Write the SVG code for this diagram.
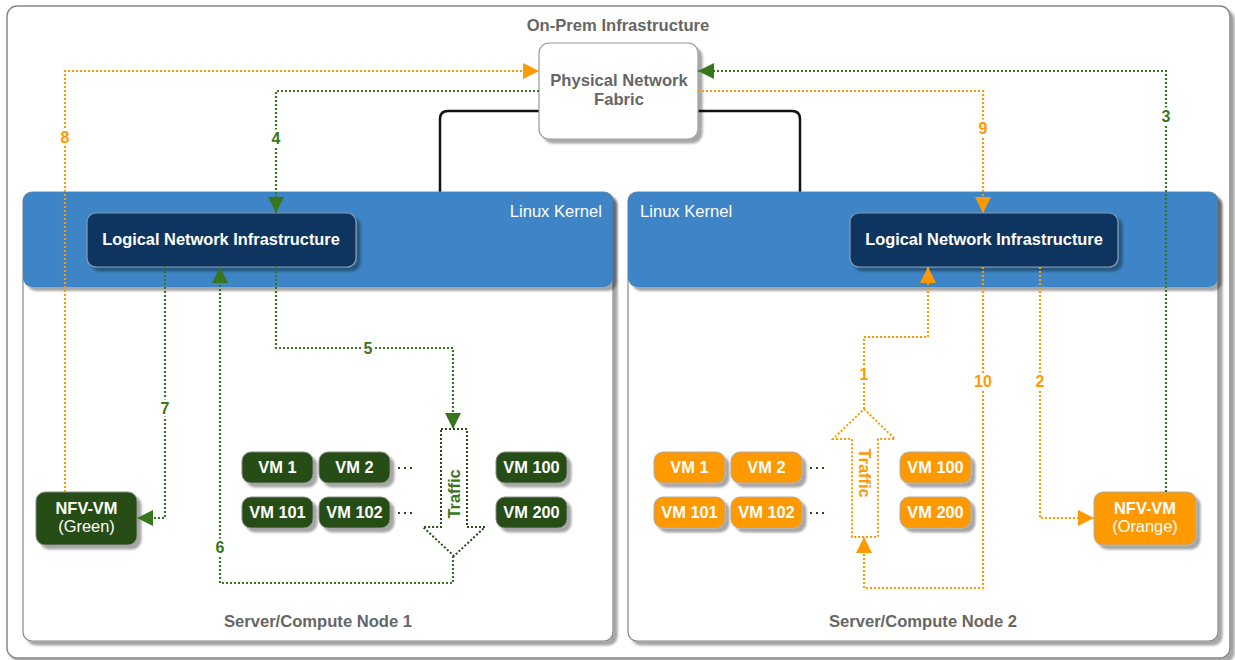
<svg xmlns="http://www.w3.org/2000/svg" width="1235" height="660" viewBox="0 0 1235 660">
  <defs>
    <filter id="shadow" x="-10%" y="-10%" width="130%" height="140%">
      <feDropShadow dx="4" dy="4" stdDeviation="1.2" flood-color="#000" flood-opacity="0.35"/>
    </filter>
    <marker id="arrowGreen" viewBox="0 0 16 16" markerWidth="16" markerHeight="16" refX="16" refY="8" orient="auto" markerUnits="userSpaceOnUse">
      <path d="M0,0 L16,8 L0,16 z" fill="#38761d"/>
    </marker>
    <marker id="arrowOrange" viewBox="0 0 16 16" markerWidth="16" markerHeight="16" refX="16" refY="8" orient="auto" markerUnits="userSpaceOnUse">
      <path d="M0,0 L16,8 L0,16 z" fill="#ff9900"/>
    </marker>
    <style>
      text { font-family: "Liberation Sans", Arial, sans-serif; }
      .title { font-size: 16.6px; font-weight: bold; fill: #666; text-anchor: middle; }
      .kernel { font-size: 16.6px; fill: #fff; }
      .lni { fill: #0b3561; stroke: #8a9bb0; stroke-width: 1.2; filter: url(#shadow); }
      .lbl { font-size: 16.4px; font-weight: bold; fill: #fff; text-anchor: middle; }
      .lblN { font-size: 16.4px; fill: #fff; text-anchor: middle; }
      .vmG { fill: #274e13; stroke: #888; stroke-width: 1; filter: url(#shadow); }
      .vmO { fill: #ff9900; stroke: #aaa; stroke-width: 1; filter: url(#shadow); }
      .server { fill: #fff; stroke: #888; stroke-width: 1.2; filter: url(#shadow); }
      .band { fill: #3d85c6; filter: url(#shadow); }
      .g { fill: none; stroke: #38761d; stroke-width: 2.2; stroke-dasharray: 2 2; marker-end: url(#arrowGreen); }
      .o { fill: none; stroke: #ff9900; stroke-width: 2.2; stroke-dasharray: 2 2; marker-end: url(#arrowOrange); }
      .num { font-size: 16px; font-weight: bold; text-anchor: middle; stroke: #fff; stroke-width: 5; paint-order: stroke; }
      .numG { fill: #38761d; }
      .numO { fill: #ff9900; }
      .dots { stroke: #274e13; stroke-width: 2; stroke-dasharray: 2 4; }
    </style>
  </defs>

  <!-- outer frame -->
  <g id="onprem">
    <rect x="7" y="6" width="1223" height="652" rx="10" fill="#fff" stroke="#888" stroke-width="1.5" filter="url(#shadow)"/>
    <text class="title" x="618" y="31">On-Prem Infrastructure</text>
  </g>

  <!-- fabric uplinks -->
  <g id="uplinks" fill="none" stroke="#111" stroke-width="2.5">
    <path d="M539,111 H448 Q440,111 440,119 V192"/>
    <path d="M698,111 H792 Q800,111 800,119 V192"/>
  </g>

  <g id="fabric">
    <rect x="539" y="43" width="159" height="96" rx="10" fill="#fff" stroke="#999" stroke-width="1.2" filter="url(#shadow)"/>
    <text class="title" x="619" y="86">Physical Network</text>
    <text class="title" x="619" y="105">Fabric</text>
  </g>

  <!-- compute node 1 -->
  <g id="node1">
    <rect class="server" x="23" y="192" width="590" height="449" rx="9"/>
    <rect class="band" x="23" y="192" width="590" height="95" rx="9"/>
    <text class="kernel" x="602" y="217" text-anchor="end">Linux Kernel</text>
    <text class="title" x="318" y="627">Server/Compute Node 1</text>
  </g>

  <!-- compute node 2 -->
  <g id="node2">
    <rect class="server" x="628" y="192" width="590" height="449" rx="9"/>
    <rect class="band" x="628" y="192" width="590" height="95" rx="9"/>
    <text class="kernel" x="640" y="217">Linux Kernel</text>
    <text class="title" x="923" y="627">Server/Compute Node 2</text>
  </g>

  <g id="lni1">
    <rect class="lni" x="87" y="213" width="269" height="54" rx="9"/>
    <text class="lbl" x="221" y="245">Logical Network Infrastructure</text>
  </g>
  <g id="lni2">
    <rect class="lni" x="850" y="213" width="268" height="54" rx="9"/>
    <text class="lbl" x="984" y="245">Logical Network Infrastructure</text>
  </g>

  <!-- green VMs -->
  <g id="g-vm1"><rect class="vmG" x="242" y="452" width="71" height="31" rx="9"/><text class="lbl" x="277.5" y="473">VM 1</text></g>
  <g id="g-vm2"><rect class="vmG" x="319" y="452" width="71" height="31" rx="9"/><text class="lbl" x="354.5" y="473">VM 2</text></g>
  <g id="g-vm100"><rect class="vmG" x="496" y="452" width="71" height="31" rx="9"/><text class="lbl" x="531.5" y="473">VM 100</text></g>
  <g id="g-vm101"><rect class="vmG" x="242" y="497" width="71" height="31" rx="9"/><text class="lbl" x="277.5" y="518">VM 101</text></g>
  <g id="g-vm102"><rect class="vmG" x="319" y="497" width="71" height="31" rx="9"/><text class="lbl" x="354.5" y="518">VM 102</text></g>
  <g id="g-vm200"><rect class="vmG" x="496" y="497" width="71" height="31" rx="9"/><text class="lbl" x="531.5" y="518">VM 200</text></g>
  <g id="g-ellipsis">
    <line class="dots" x1="398" y1="468" x2="414" y2="468"/>
    <line class="dots" x1="398" y1="513" x2="414" y2="513"/>
  </g>
  <g id="nfv-green">
    <rect class="vmG" x="36" y="492" width="101" height="53" rx="9"/>
    <text class="lbl" x="86.5" y="514">NFV-VM</text>
    <text class="lblN" x="86.5" y="532">(Green)</text>
  </g>

  <!-- orange VMs -->
  <g id="o-vm1"><rect class="vmO" x="654" y="452" width="71" height="31" rx="9"/><text class="lbl" x="689.5" y="473">VM 1</text></g>
  <g id="o-vm2"><rect class="vmO" x="731" y="452" width="71" height="31" rx="9"/><text class="lbl" x="766.5" y="473">VM 2</text></g>
  <g id="o-vm100"><rect class="vmO" x="900" y="452" width="71" height="31" rx="9"/><text class="lbl" x="935.5" y="473">VM 100</text></g>
  <g id="o-vm101"><rect class="vmO" x="654" y="497" width="71" height="31" rx="9"/><text class="lbl" x="689.5" y="518">VM 101</text></g>
  <g id="o-vm102"><rect class="vmO" x="731" y="497" width="71" height="31" rx="9"/><text class="lbl" x="766.5" y="518">VM 102</text></g>
  <g id="o-vm200"><rect class="vmO" x="900" y="497" width="71" height="31" rx="9"/><text class="lbl" x="935.5" y="518">VM 200</text></g>
  <g id="o-ellipsis">
    <line class="dots" x1="810" y1="468" x2="826" y2="468"/>
    <line class="dots" x1="810" y1="513" x2="826" y2="513"/>
  </g>
  <g id="nfv-orange">
    <rect class="vmO" x="1094" y="492" width="102" height="53" rx="9"/>
    <text class="lbl" x="1145" y="514">NFV-VM</text>
    <text class="lblN" x="1145" y="532">(Orange)</text>
  </g>

  <!-- traffic block arrows -->
  <g id="traffic-green">
    <polygon points="441,429 467,429 467,527 485,527 454,556 423,527 441,527" fill="#fff" stroke="#274e13" stroke-width="2" stroke-dasharray="2 2"/>
    <text transform="translate(459.5,494) rotate(-90)" text-anchor="middle" font-size="16.4" font-weight="bold" fill="#38761d">Traffic</text>
  </g>
  <g id="traffic-orange">
    <polygon points="864,409 895,439 878,439 878,537 852,537 852,439 833,439" fill="#fff" stroke="#ff9900" stroke-width="2" stroke-dasharray="2 2"/>
    <text transform="translate(859,473) rotate(90)" text-anchor="middle" font-size="16.4" font-weight="bold" fill="#ff9900">Traffic</text>
  </g>

  <!-- numbered flows -->
  <g id="connectors">
    <path class="o" d="M65,492 V71 H539"/>
    <path class="g" d="M539,91 H276 V213"/>
    <path class="g" d="M1166,492 V71 H698"/>
    <path class="o" d="M698,91 H983 V213"/>
    <path class="g" d="M276,267 V348 H453 V429"/>
    <path class="g" d="M453,556 V583 H220 V267"/>
    <path class="g" d="M165,267 V518 H137"/>
    <path class="o" d="M864,409 V337 H928 V267"/>
    <path class="o" d="M983,267 V588 H864 V537"/>
    <path class="o" d="M1040,267 V518 H1094"/>

    <text class="num numO" x="65" y="143">8</text>
    <text class="num numG" x="276" y="144">4</text>
    <text class="num numG" x="1166" y="122">3</text>
    <text class="num numO" x="983" y="134">9</text>
    <text class="num numG" x="368" y="354">5</text>
    <text class="num numG" x="165" y="414">7</text>
    <text class="num numG" x="220" y="553">6</text>
    <text class="num numO" x="864" y="380">1</text>
    <text class="num numO" x="983" y="387">10</text>
    <text class="num numO" x="1040" y="387">2</text>
  </g>
</svg>
